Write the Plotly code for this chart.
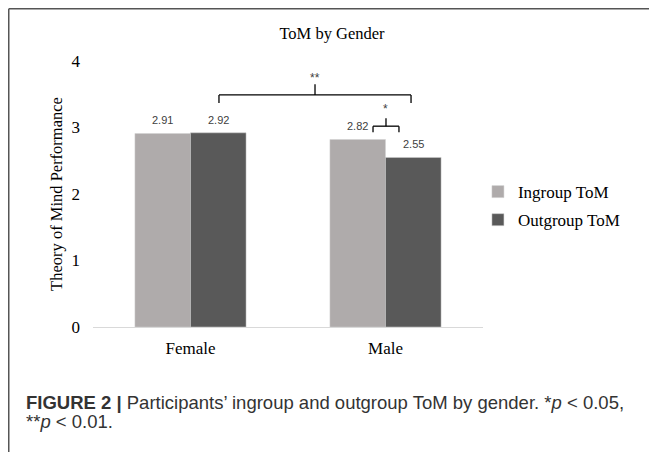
import plotly.graph_objects as go

categories = ["Female", "Male"]
ingroup = [2.91, 2.82]
outgroup = [2.92, 2.55]
series_names = ["Ingroup ToM", "Outgroup ToM"]
colors = ["#AFABAB", "#595959"]
y_ticks = [0, 1, 2, 3, 4]

SERIF = "Liberation Serif"

fig = go.Figure()
for i, (name, vals, col) in enumerate(zip(series_names, [ingroup, outgroup], colors)):
    fig.add_trace(go.Bar(
        name=name, x=categories, y=vals,
        marker=dict(color=col, line=dict(color="#D0D0D0", width=0.5)),
        legendgroup=f"g{i}",
    ))

# data labels
half = 0.1425
for i, vals in enumerate([ingroup, outgroup]):
    off = -half if i == 0 else half
    for j, v in enumerate(vals):
        fig.add_annotation(x=j + off, y=v, xref="x", yref="y", text=f"{v:.2f}",
                           showarrow=False, yshift=13,
                           font=dict(family="Liberation Sans", size=11, color="#404040"))

# significance brackets (data coords)
def bracket(x0, x1, ytop, yleg, ytip, label, ylab):
    lc = dict(color="#000000", width=1.3)
    fig.add_shape(type="line", xref="x", yref="y", x0=x0, x1=x1, y0=ytop, y1=ytop, line=lc)
    fig.add_shape(type="line", xref="x", yref="y", x0=x0, x1=x0, y0=ytop, y1=yleg, line=lc)
    fig.add_shape(type="line", xref="x", yref="y", x0=x1, x1=x1, y0=ytop, y1=yleg, line=lc)
    xm = (x0 + x1) / 2
    fig.add_shape(type="line", xref="x", yref="y", x0=xm, x1=xm, y0=ytop, y1=ytip, line=lc)
    fig.add_annotation(x=xm, y=ylab, xref="x", yref="y", text=label, showarrow=False,
                       font=dict(family="Liberation Sans", size=12, color="#404040"))

bracket(0.146, 1.131, 3.49, 3.37, 3.65, "**", 3.74)
bracket(0.936, 1.069, 3.02, 2.93, 3.14, "*", 3.28)

# frame lines (paper coords)
fig.add_shape(type="line", xref="paper", yref="paper", x0=-0.216, x1=1.5, y0=1.1964, y1=1.1964,
              line=dict(color="#555555", width=1.5))
fig.add_shape(type="line", xref="paper", yref="paper", x0=-0.216, x1=-0.216, y0=1.1964, y1=-0.5,
              line=dict(color="#555555", width=1.5))

# caption
fig.add_annotation(xref="paper", yref="paper", x=-0.177, y=-0.282, xanchor="left", yanchor="middle",
                   text="<b>FIGURE 2 |</b> Participants’ ingroup and outgroup ToM by gender. *<i>p</i> &lt; 0.05,",
                   showarrow=False, font=dict(family="Liberation Sans", size=18.5, color="#333333"))
fig.add_annotation(xref="paper", yref="paper", x=-0.177, y=-0.355, xanchor="left", yanchor="middle",
                   text="**<i>p</i> &lt; 0.01.",
                   showarrow=False, font=dict(family="Liberation Sans", size=18.5, color="#333333"))

W, H = 649, 444
fig.update_layout(
    width=W, height=H,
    margin=dict(l=85, r=W - 475, t=53, b=H - 319),
    paper_bgcolor="white", plot_bgcolor="white",
    barmode="group", bargap=0.43, bargroupgap=0,
    title=dict(text="ToM by Gender", x=324 / W, xanchor="center", y=1 - 25 / H, yanchor="middle",
               font=dict(family=SERIF, size=16.5, color="#000000")),
    font=dict(family=SERIF, size=17, color="#000000"),
    showlegend=True,
    legend=dict(x=0.987, xanchor="left", y=0.575, yanchor="top",
                font=dict(family=SERIF, size=17, color="#000000"),
                tracegroupgap=3, itemwidth=30, bgcolor="rgba(0,0,0,0)"),
    xaxis=dict(range=[-0.5, 1.5], showline=True, linecolor="#D9D9D9", linewidth=1,
               showgrid=False, ticks="", ticklabelstandoff=6,
               tickfont=dict(family=SERIF, size=17, color="#000000")),
    yaxis=dict(range=[0, 4], tickvals=y_ticks, showline=False, showgrid=False, zeroline=False,
               ticks="", ticklabelstandoff=12,
               tickfont=dict(family=SERIF, size=17, color="#000000"),
               title=dict(text="Theory of Mind Performance", standoff=4,
                          font=dict(family=SERIF, size=16.5, color="#000000"))),
)

fig.write_html("out.html")
